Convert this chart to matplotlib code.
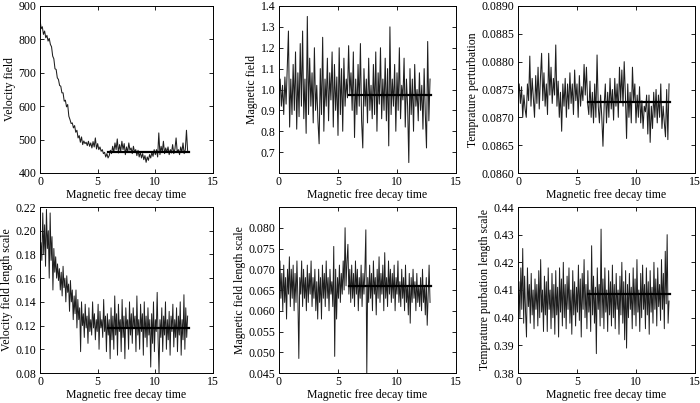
"""Six-panel magnetic free decay time series (matlab-like style)."""
import matplotlib

matplotlib.use("Agg")
import matplotlib.pyplot as plt
import numpy as np
from matplotlib.ticker import FormatStrFormatter

# ---- data ----
velocity = [
    860, 832, 838, 815, 825, 805, 812, 795, 803, 785,
    778, 750, 742, 712, 710, 685, 680, 662, 660, 640,
    640, 615, 618, 598, 605, 570, 560, 548, 550, 535,
    542, 522, 528, 505, 512, 492, 508, 485, 496, 488,
    492, 482, 495, 480, 490, 475, 494, 478, 505, 472,
    488, 470, 478, 465, 470, 458, 462, 448, 458, 445,
    452, 468, 458, 480, 462, 490, 470, 502, 460, 485,
    465, 495, 470, 488, 455, 478, 462, 490, 468, 475,
    458, 480, 462, 470, 452, 468, 448, 462, 445, 458,
    440, 452, 432, 448, 438, 455, 445, 462, 450, 470,
    455, 470, 448, 520, 455, 480, 462, 495, 458, 475,
    462, 478, 455, 470, 460, 485, 458, 472, 505, 462,
    470, 455, 478, 462, 490, 458, 470, 528, 465,
]
magnetic = [
    0.95, 1.05, 0.92, 1.02, 0.88, 1.06, 0.93, 1.10, 1.28, 0.82,
    1.05, 0.88, 1.12, 0.90, 1.18, 0.81, 1.08, 0.87, 1.22, 0.92,
    1.28, 0.86, 1.05, 0.79, 1.35, 0.88, 1.15, 0.92, 1.08, 0.84,
    1.20, 0.90, 1.02, 0.85, 0.74, 1.10, 0.88, 1.25, 0.80, 1.05,
    0.92, 1.15, 0.85, 1.08, 0.95, 1.18, 0.82, 1.12, 0.90, 1.06,
    0.78, 1.20, 0.88, 1.10, 0.80, 1.15, 0.92, 1.05, 0.96, 1.21,
    0.98, 1.08, 0.90, 1.18, 0.77, 1.05, 0.88, 1.12, 0.92, 1.22,
    0.85, 0.72, 1.10, 0.92, 1.05, 0.84, 1.15, 0.90, 1.02, 0.86,
    1.12, 0.88, 1.18, 0.80, 1.08, 0.93, 1.20, 0.86, 1.05, 0.90,
    1.15, 0.85, 1.10, 0.73, 1.30, 0.88, 1.05, 0.92, 1.12, 0.80,
    1.08, 0.90, 1.20, 0.86, 1.02, 0.95, 1.15, 0.82, 1.05, 0.92,
    0.65, 1.10, 0.88, 1.05, 0.80, 1.12, 0.92, 1.00, 0.85, 1.08,
    0.90, 1.02, 0.81, 1.10, 0.88, 0.72, 1.23, 0.85, 1.05,
]
temperature = [
    0.08745, 0.08760, 0.08725, 0.08755, 0.08700, 0.08740, 0.08715, 0.08700, 0.08760, 0.08730,
    0.08810, 0.08720, 0.08770, 0.08735, 0.08700, 0.08775, 0.08725, 0.08790, 0.08715, 0.08770,
    0.08815, 0.08730, 0.08780, 0.08720, 0.08760, 0.08705, 0.08815, 0.08740, 0.08790, 0.08725,
    0.08770, 0.08740, 0.08830, 0.08720, 0.08765, 0.08700, 0.08745, 0.08675, 0.08760, 0.08720,
    0.08770, 0.08700, 0.08760, 0.08715, 0.08780, 0.08725, 0.08760, 0.08705, 0.08785, 0.08730,
    0.08760, 0.08700, 0.08775, 0.08720, 0.08755, 0.08730, 0.08795, 0.08740, 0.08790, 0.08725,
    0.08705, 0.08765, 0.08700, 0.08745, 0.08690, 0.08760, 0.08700, 0.08812, 0.08720, 0.08690,
    0.08740, 0.08700, 0.08648, 0.08720, 0.08760, 0.08690, 0.08745, 0.08700, 0.08770, 0.08715,
    0.08750, 0.08695, 0.08770, 0.08720, 0.08760, 0.08700, 0.08790, 0.08730, 0.08785, 0.08720,
    0.08800, 0.08740, 0.08662, 0.08760, 0.08700, 0.08745, 0.08690, 0.08790, 0.08730, 0.08760,
    0.08690, 0.08740, 0.08700, 0.08755, 0.08690, 0.08730, 0.08680, 0.08720, 0.08710, 0.08740,
    0.08670, 0.08740, 0.08655, 0.08720, 0.08680, 0.08745, 0.08700, 0.08750, 0.08690, 0.08740,
    0.08700, 0.08760, 0.08680, 0.08720, 0.08690, 0.08665, 0.08750, 0.08660, 0.08760,
]
velocity_ls = [
    0.165, 0.190, 0.175, 0.215, 0.180, 0.205, 0.170, 0.218, 0.185, 0.200,
    0.160, 0.215, 0.175, 0.195, 0.150, 0.185, 0.165, 0.178, 0.160, 0.172,
    0.158, 0.168, 0.150, 0.165, 0.145, 0.170, 0.152, 0.160, 0.140, 0.162,
    0.148, 0.155, 0.132, 0.158, 0.140, 0.150, 0.125, 0.145, 0.130, 0.150,
    0.118, 0.142, 0.125, 0.135, 0.098, 0.140, 0.120, 0.130, 0.110, 0.138,
    0.118, 0.128, 0.105, 0.135, 0.115, 0.125, 0.112, 0.140, 0.118, 0.130,
    0.108, 0.125, 0.115, 0.138, 0.100, 0.132, 0.118, 0.125, 0.110, 0.142,
    0.115, 0.128, 0.098, 0.130, 0.112, 0.125, 0.092, 0.135, 0.108, 0.128,
    0.100, 0.145, 0.112, 0.130, 0.095, 0.138, 0.115, 0.125, 0.098, 0.142,
    0.110, 0.128, 0.092, 0.135, 0.118, 0.125, 0.100, 0.140, 0.112, 0.130,
    0.105, 0.135, 0.118, 0.128, 0.098, 0.145, 0.112, 0.125, 0.100, 0.138,
    0.115, 0.130, 0.095, 0.140, 0.110, 0.128, 0.102, 0.135, 0.112, 0.125,
    0.085, 0.130, 0.105, 0.140, 0.098, 0.125, 0.115, 0.148, 0.108, 0.080,
    0.125, 0.110, 0.135, 0.098, 0.128, 0.112, 0.140, 0.100, 0.125, 0.108,
    0.132, 0.095, 0.128, 0.115, 0.138, 0.102, 0.125, 0.110, 0.135, 0.098,
    0.128, 0.112, 0.140, 0.095, 0.125, 0.108, 0.146, 0.100, 0.135, 0.110, 0.128,
]
magnetic_ls = [
    0.061, 0.072, 0.063, 0.069, 0.060, 0.071, 0.062, 0.068, 0.058, 0.070,
    0.064, 0.073, 0.061, 0.070, 0.063, 0.071, 0.060, 0.069, 0.062, 0.072,
    0.063, 0.0485, 0.068, 0.064, 0.072, 0.061, 0.070, 0.063, 0.068, 0.060,
    0.071, 0.062, 0.069, 0.064, 0.072, 0.061, 0.068, 0.063, 0.070, 0.060,
    0.067, 0.058, 0.070, 0.062, 0.068, 0.058, 0.071, 0.063, 0.069, 0.061,
    0.072, 0.063, 0.068, 0.060, 0.070, 0.064, 0.067, 0.061, 0.0755, 0.049,
    0.070, 0.058, 0.068, 0.063, 0.071, 0.062, 0.069, 0.064, 0.072, 0.065,
    0.080, 0.066, 0.072, 0.076, 0.064, 0.070, 0.062, 0.071, 0.063, 0.069,
    0.061, 0.072, 0.064, 0.070, 0.060, 0.068, 0.063, 0.071, 0.061, 0.069,
    0.064, 0.070, 0.0795, 0.045, 0.068, 0.062, 0.071, 0.063, 0.069, 0.060,
    0.072, 0.064, 0.068, 0.059, 0.070, 0.063, 0.073, 0.062, 0.069, 0.064,
    0.071, 0.060, 0.074, 0.063, 0.068, 0.061, 0.072, 0.064, 0.070, 0.062,
    0.069, 0.063, 0.071, 0.060, 0.068, 0.064, 0.072, 0.062, 0.067, 0.061,
    0.070, 0.063, 0.068, 0.060, 0.071, 0.062, 0.066, 0.059, 0.069, 0.057,
    0.068, 0.062, 0.070, 0.063, 0.067, 0.060, 0.069, 0.062, 0.066, 0.061,
    0.068, 0.060, 0.070, 0.062, 0.066, 0.059, 0.068, 0.0565, 0.064, 0.071, 0.062,
]
temperature_ls = [
    0.405, 0.413, 0.400, 0.418, 0.403, 0.425, 0.398, 0.415, 0.402, 0.393,
    0.418, 0.404, 0.412, 0.398, 0.416, 0.401, 0.410, 0.396, 0.414, 0.403,
    0.412, 0.397, 0.417, 0.400, 0.421, 0.402, 0.410, 0.395, 0.415, 0.401,
    0.413, 0.395, 0.418, 0.403, 0.410, 0.396, 0.416, 0.400, 0.412, 0.394,
    0.417, 0.401, 0.411, 0.393, 0.418, 0.402, 0.414, 0.397, 0.420, 0.400,
    0.412, 0.396, 0.415, 0.403, 0.418, 0.398, 0.410, 0.394, 0.417, 0.401,
    0.413, 0.397, 0.411, 0.402, 0.419, 0.399, 0.414, 0.393, 0.416, 0.403,
    0.421, 0.400, 0.412, 0.396, 0.417, 0.402, 0.410, 0.395, 0.426, 0.401,
    0.415, 0.398, 0.411, 0.387, 0.418, 0.403, 0.412, 0.397, 0.432, 0.400,
    0.414, 0.396, 0.418, 0.402, 0.410, 0.395, 0.417, 0.401, 0.413, 0.397,
    0.419, 0.400, 0.412, 0.396, 0.416, 0.403, 0.410, 0.394, 0.415, 0.401,
    0.420, 0.398, 0.413, 0.392, 0.417, 0.389, 0.412, 0.400, 0.416, 0.403,
    0.411, 0.396, 0.418, 0.401, 0.414, 0.397, 0.421, 0.402, 0.410, 0.395,
    0.416, 0.400, 0.419, 0.403, 0.412, 0.396, 0.418, 0.401, 0.413, 0.394,
    0.417, 0.402, 0.411, 0.398, 0.420, 0.403, 0.414, 0.397, 0.418, 0.404,
    0.412, 0.399, 0.421, 0.403, 0.416, 0.396, 0.424, 0.405, 0.430, 0.398, 0.406,
]
# saturated means drawn as flat lines over the late-time window
mean_levels = [462, 0.975, 0.08727, 0.118, 0.066, 0.4085]
mean_window = (5.9, 12.9)
t_end = 12.8

PANELS = [
    # series, ylabel, ylim, yticks, fmt
    (velocity, "Velocity field", (400, 900), np.arange(400, 901, 100), "%d"),
    (magnetic, "Magnetic field", (0.6, 1.4), np.arange(0.7, 1.41, 0.1), "%.1f"),
    (temperature, "Temprature perturbation", (0.086, 0.089),
     np.arange(0.086, 0.08901, 0.0005), "%.4f"),
    (velocity_ls, "Velocity field length scale", (0.08, 0.22),
     np.arange(0.08, 0.2201, 0.02), "%.2f"),
    (magnetic_ls, "Magnetic field length scale", (0.045, 0.085),
     np.arange(0.045, 0.0801, 0.005), "%.3f"),
    (temperature_ls, "Temprature purbation length scale", (0.38, 0.44),
     np.arange(0.38, 0.4401, 0.01), "%.2f"),
]

# axes boxes in pixels: left, top, right, bottom (700x403 canvas)
BOXES = [
    (40, 6, 213, 173), (279, 6, 456, 173), (518, 6, 695, 173),
    (40, 207, 213, 373), (279, 207, 456, 373), (518, 207, 695, 373),
]

plt.rcParams.update({
    "font.family": ["Liberation Serif", "DejaVu Serif"],
    "font.size": 8.5,
    "axes.linewidth": 0.7,
    "xtick.direction": "in",
    "ytick.direction": "in",
    "xtick.top": True,
    "ytick.right": True,
    "xtick.major.size": 3,
    "ytick.major.size": 3,
    "xtick.major.width": 0.6,
    "ytick.major.width": 0.6,
    "xtick.major.pad": 2.5,
    "ytick.major.pad": 2.5,
})

W, H = 700, 403
fig = plt.figure(figsize=(W / 100, H / 100), dpi=100)

for i, ((series, ylabel, ylim, yticks, fmt), (l, t, r, b)) in enumerate(zip(PANELS, BOXES)):
    ax = fig.add_axes([l / W, 1 - b / H, (r - l) / W, (b - t) / H])
    y = np.asarray(series, dtype=float)
    time = np.linspace(0.0, t_end, len(y))
    ax.plot(time, y, color="#1e1e1e", linewidth=0.75 if i < 3 else 0.7)
    level = mean_levels[i]
    ax.plot(mean_window, [level, level], color="black", linewidth=1.6)
    ax.set_xlim(0, 15)
    ax.set_xticks([0, 5, 10, 15])
    ax.set_ylim(*ylim)
    ax.set_yticks(yticks)
    ax.yaxis.set_major_formatter(FormatStrFormatter(fmt))
    ax.set_xlabel("Magnetic free decay time", labelpad=0.5)
    ax.set_ylabel(ylabel, labelpad=2)

fig.savefig("out.png", dpi=100)
plt.close(fig)
